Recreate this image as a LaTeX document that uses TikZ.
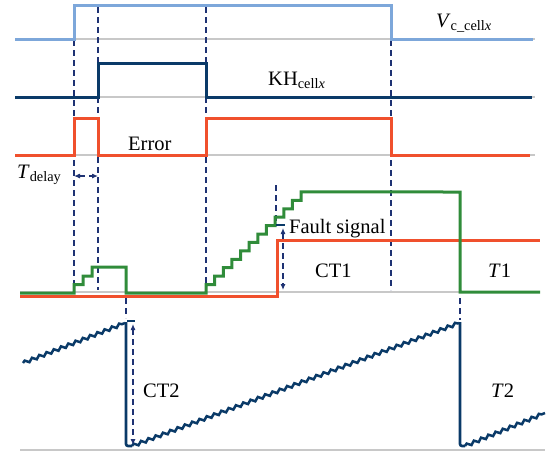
\documentclass[tikz,border=0pt]{standalone}
\usepackage{fontspec}
\setmainfont{Liberation Serif}
\usetikzlibrary{arrows.meta,decorations.pathmorphing}
\definecolor{vblue}{RGB}{125,167,218}
\definecolor{navy}{RGB}{10,58,104}
\definecolor{sigred}{RGB}{240,80,45}
\definecolor{siggreen}{RGB}{48,140,58}
\definecolor{gridgray}{RGB}{200,200,200}
\definecolor{dashcol}{RGB}{30,50,115}
\begin{document}
\begin{tikzpicture}[x=1pt,y=-1pt,
  base/.style={draw=gridgray,line width=2.8pt},
  sig/.style={line width=3pt,line join=miter},
  guide/.style={draw=dashcol,line width=1.1pt,dash pattern=on 6pt off 4pt},
  meas/.style={guide,{Latex[length=6pt,width=5pt]}-{Latex[length=6pt,width=5pt]}},
  tick/.style={draw=navy,line width=1.8pt},
  lbl/.style={inner sep=0pt,anchor=base west,font=\fontsize{20.5}{24}\selectfont},
  wave/.style={draw=navy,line width=2.5pt,decorate,decoration={snake,segment length=7.8pt,amplitude=1.6pt}},
  drop/.style={draw=navy,line width=2.6pt,rounded corners=2pt}]
\useasboundingbox (0,0) rectangle (546,453);
% baselines
\draw[base] (15,39) -- (535,39);
\draw[base] (15,97) -- (535,97);
\draw[base] (15,155) -- (535,155);
\draw[base] (20,292) -- (540,292);
\draw[base] (20,450) -- (545,450);
% guides
\draw[guide] (74,40) -- (74,290);
\draw[guide] (98,7) -- (98,290);
\draw[guide] (206,7) -- (206,285);
\draw[guide] (391,40) -- (391,290);
\draw[guide] (126,298) -- (126,318);
\draw[guide] (460,298) -- (460,320);
\draw[guide] (276,185) -- (276,222);
% signals
\draw[sig,vblue] (15,39) -- (74,39) -- (74,5) -- (391,5) -- (391,39) -- (533,39);
\draw[sig,navy] (15,97) -- (98,97) -- (98,63) -- (206,63) -- (206,97) -- (532,97);
\draw[sig,sigred] (15,155) -- (74,155) -- (74,118) -- (98,118) -- (98,155) -- (206,155) -- (206,118) -- (391,118) -- (391,155) -- (530,155);
\draw[sig,sigred] (20,296) -- (277,296) -- (277,240) -- (540,240);
\draw[sig,siggreen] (20,293) -- (74,293) -- (74,284.5) -- (83,284.5) -- (83,276) -- (92,276) -- (92,267) -- (126,267) -- (126,293) -- (206,293)
  \foreach \k in {1,...,12} { -- ++(0,-8.42) -- ++(8.64,0) } -- (460,192) -- (460,292) -- (540,292);
% saw
\draw[wave] (23,363) -- (125,323);
\draw[drop] (126,322) -- (126,446) -- (132,446);
\draw[wave] (132,446) -- (459,323);
\draw[drop] (460,322) -- (460,446) -- (465,446);
\draw[wave] (465,446) -- (545,413);
% measurement arrows
\coordinate (td1) at (74,176); \coordinate (td2) at (98,176);
\draw[meas] (td1) -- (td2);
\coordinate (fs1) at (283,228); \coordinate (fs2) at (283,290);
\draw[tick] (276,225) -- (285,225);
\draw[meas] (fs1) -- (fs2);
\coordinate (ct1) at (133,324); \coordinate (ct2) at (133,445);
\draw[tick] (127,321) -- (135,321);
\draw[meas] (ct1) -- (ct2);
% labels
\node[lbl] (lv) at (436,27) {\textit{V}\textsubscript{c\_cell\textit{x}}};
\node[lbl] (lkh) at (268,85) {KH\textsubscript{cell\textit{x}}};
\node[lbl] (lerr) at (128,150) {Error};
\node[lbl] (ltd) at (17,178) {\textit{T}\textsubscript{delay}};
\node[lbl] (lfs) at (289,233) {Fault signal};
\node[lbl] (lct1) at (315,277) {CT1};
\node[lbl] (lt1) at (488,277) {\textit{T}1};
\node[lbl] (lct2) at (143,397) {CT2};
\node[lbl] (lt2) at (491,397) {\textit{T}2};
\end{tikzpicture}
\end{document}
